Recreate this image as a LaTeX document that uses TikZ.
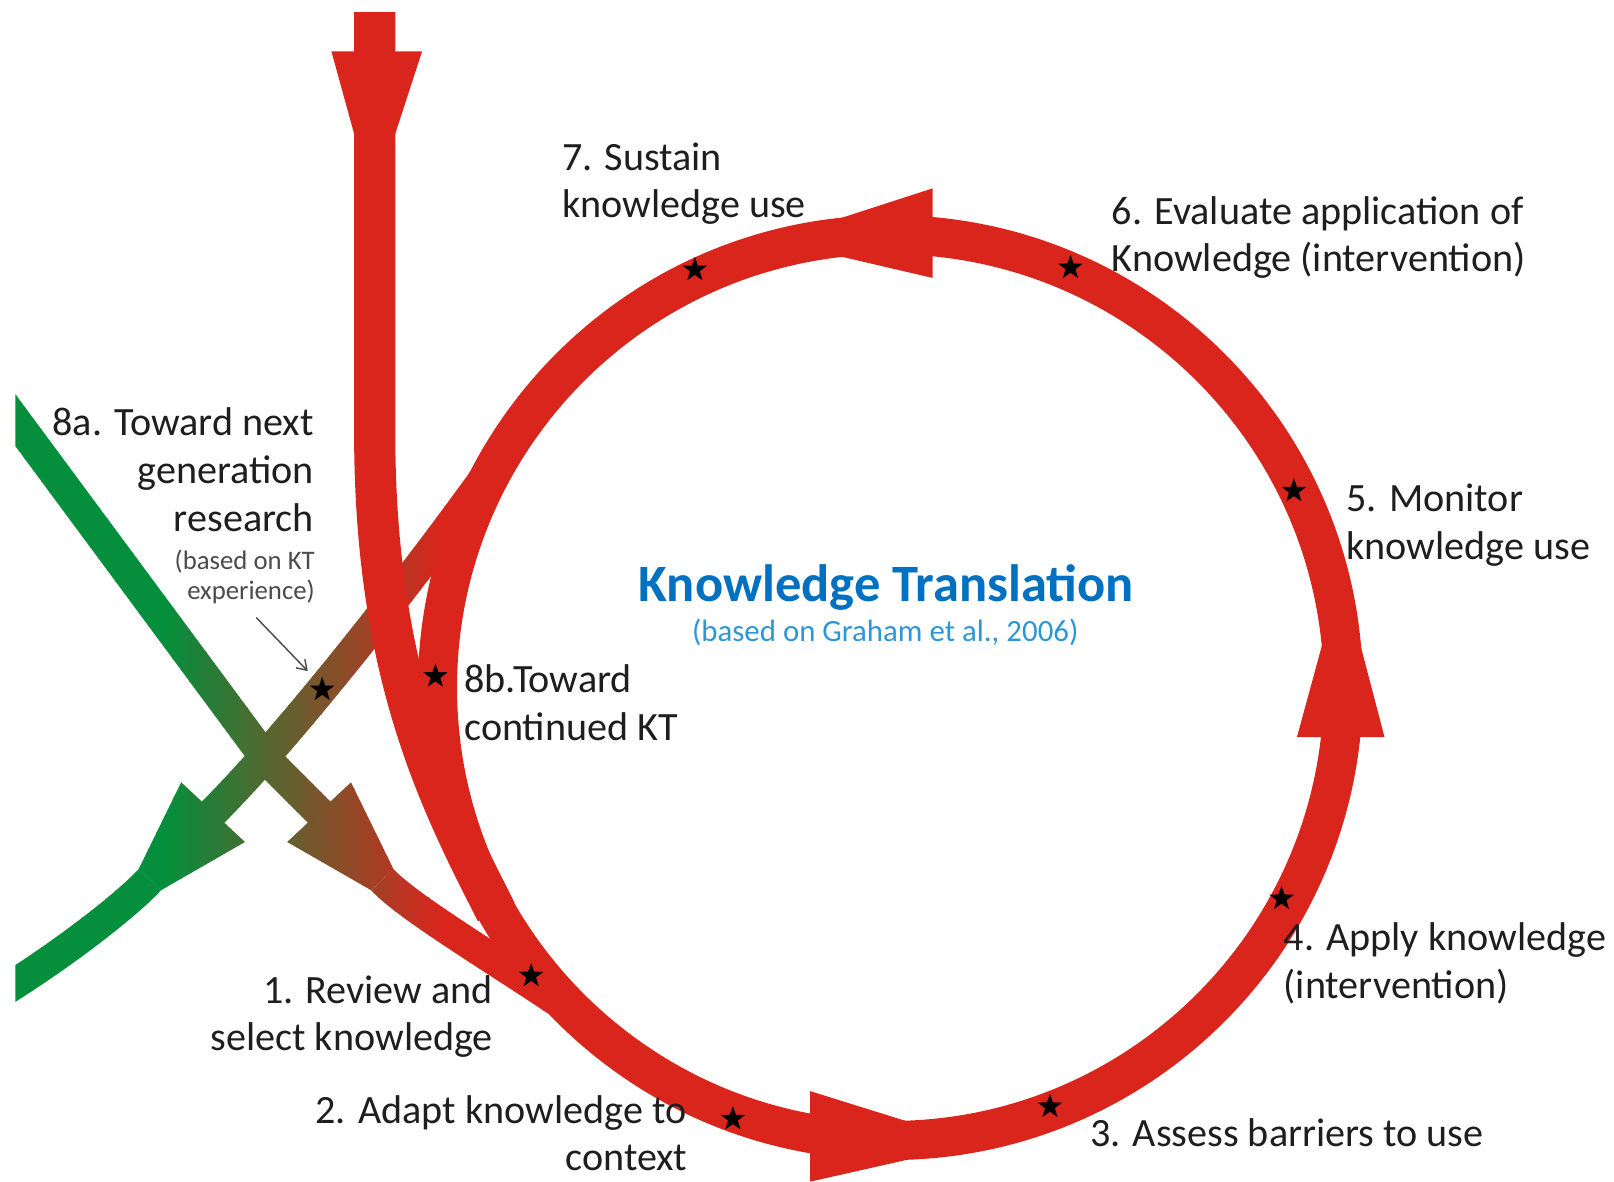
\documentclass[tikz,border=0pt]{standalone}
\usepackage{fontspec}
\setmainfont{Carlito}
\usetikzlibrary{shapes.geometric,arrows.meta}
\definecolor{ktred}{RGB}{218,37,29}
\definecolor{ktgreen}{RGB}{5,142,60}
\definecolor{ktblue}{RGB}{0,112,192}
\definecolor{ktlblue}{RGB}{45,150,215}
\definecolor{kttext}{RGB}{30,30,30}
\definecolor{ktgray}{RGB}{75,75,75}
\tikzset{
  gband/.style={line width=30pt, line cap=butt, line join=round},
  rband/.style={draw=ktred, line width=38pt},
  aband/.style={draw=ktred, line width=40pt, line cap=butt, line join=round},
  flare/.style={fill=ktred},
  kstar/.style={star, star points=5, star point ratio=2.5, fill=black, draw=none, inner sep=0pt, minimum size=25pt},
  lbl/.style={font=\fontsize{39}{46}\selectfont, text=kttext, inner sep=0pt},
  small/.style={font=\fontsize{26}{30}\selectfont, text=ktgray, inner sep=0pt},
}
\newcommand\ktgradbands{%
  \draw[gband] (0,388) -- (259,738) -- (318,797);
  \fill (341,760) -- (279,818) -- (360.5,864.8) -- (382.3,844.4) -- cycle;
  \draw[gband] (371.4,854.6) .. controls (395,880) and (470,925) .. (545,975);
  \draw[gband] (505,416) .. controls (430,525) and (290,706) .. (207,789) -- (190,807);
  \fill (176,760) -- (238,818) -- (156.5,864.8) -- (134.7,844.4) -- cycle;
  \draw[gband] (145.6,854.6) .. controls (125,877) and (65,925) .. (-5,968);
}
\begin{document}
\begin{tikzpicture}[x=1pt,y=-1pt]
\useasboundingbox (0,0) rectangle (1568,1148);
\begin{scope}
  \clip (15,12) rectangle (1568,1148);
  % gradient bands (green -> red, horizontal gradient)
  \foreach \xs in {0,8,...,560} {
    \pgfmathtruncatemacro\ktp{max(0,min(100,(\xs+4-160)/2.7))}
    \begin{scope}
      \clip (\xs,0) rectangle (\xs+8.6,1148);
      \begin{scope}[color=ktred!\ktp!ktgreen]
        \ktgradbands
      \end{scope}
    \end{scope}
  }
  % main loop
  \coordinate (C) at (865,668);
  \draw[rband] (C) circle[radius=440];
  % incoming vertical band
  \coordinate (Atop) at (364,0);
  \coordinate (Abend) at (364,420);
  \coordinate (Ajoin) at (473,868);
  \draw[aband] (Atop) -- (Abend) .. controls (364,640) and (419,762) .. (Ajoin) -- (482,886);
  % arrow flares
  \fill[flare] (322,50) -- (410,50) -- (384,130) -- (344,130) -- cycle;
  \fill[flare] (906,183) -- (906,270) -- (818,249.5) -- (818,211.5) -- cycle;
  \fill[flare] (1260,716) -- (1345,716) -- (1322,628) -- (1284,628) -- cycle;
  \fill[flare] (787,1060) -- (787,1148) -- (880,1127) -- (880,1089) -- cycle;
\end{scope}
% stars
\node[kstar] (s7) at (675,262) {};
\node[kstar] (s6) at (1040,260) {};
\node[kstar] (s5) at (1257,477) {};
\node[kstar] (s4) at (1245,873) {};
\node[kstar] (s3) at (1020,1075) {};
\node[kstar] (s2) at (712,1087) {};
\node[kstar] (s1) at (516,948) {};
\node[kstar] (s8b) at (423,657) {};
\node[kstar] (s8a) at (313,670) {};
% labels
\node[lbl, anchor=base west] (l7a) at (546,166) {7. Sustain};
\node[lbl, anchor=base west] (l7b) at (546,211) {knowledge use};
\node[lbl, anchor=base west] (l6a) at (1080,218) {6. Evaluate application of};
\node[lbl, anchor=base west] (l6b) at (1080,264) {Knowledge (intervention)};
\node[lbl, anchor=base west] (l5a) at (1308,497) {5. Monitor};
\node[lbl, anchor=base west] (l5b) at (1308,544) {knowledge use};
\node[lbl, anchor=base west] (l4a) at (1247,923) {4. Apply knowledge};
\node[lbl, anchor=base west] (l4b) at (1247,970) {(intervention)};
\node[lbl, anchor=base west] (l3) at (1059,1114) {3. Assess barriers to use};
\node[lbl, anchor=base east] (l2a) at (667,1091) {2. Adapt knowledge to};
\node[lbl, anchor=base east] (l2b) at (668,1137) {context};
\node[lbl, anchor=base east] (l1a) at (479,975) {1. Review and};
\node[lbl, anchor=base east] (l1b) at (479,1021) {select knowledge};
\node[lbl, anchor=base east] (l8aa) at (305,423) {8a. Toward next};
\node[lbl, anchor=base east] (l8ab) at (305,470) {generation};
\node[lbl, anchor=base east] (l8ac) at (305,516) {research};
\node[small, anchor=base east] (l8ad) at (306,553) {(based on KT};
\node[small, anchor=base east] (l8ae) at (306,582) {experience)};
\node[lbl, anchor=base west] (l8ba) at (451,673) {8b.Toward};
\node[lbl, anchor=base west] (l8bb) at (451,719) {continued KT};
\node[font=\bfseries\fontsize{51}{60}\selectfont, text=ktblue, inner sep=0pt, anchor=base] (title) at (861,584) {Knowledge Translation};
\node[font=\fontsize{30}{35}\selectfont, text=ktlblue, inner sep=0pt, anchor=base] (sub) at (860,623) {(based on Graham et al., 2006)};
% pointer arrow
\coordinate (pa) at (249,600);
\coordinate (pb) at (299,652);
\draw[ktgray, line width=1.4pt, -{Straight Barb[length=9pt,width=12pt]}] (pa) -- (pb);
\end{tikzpicture}
\end{document}
